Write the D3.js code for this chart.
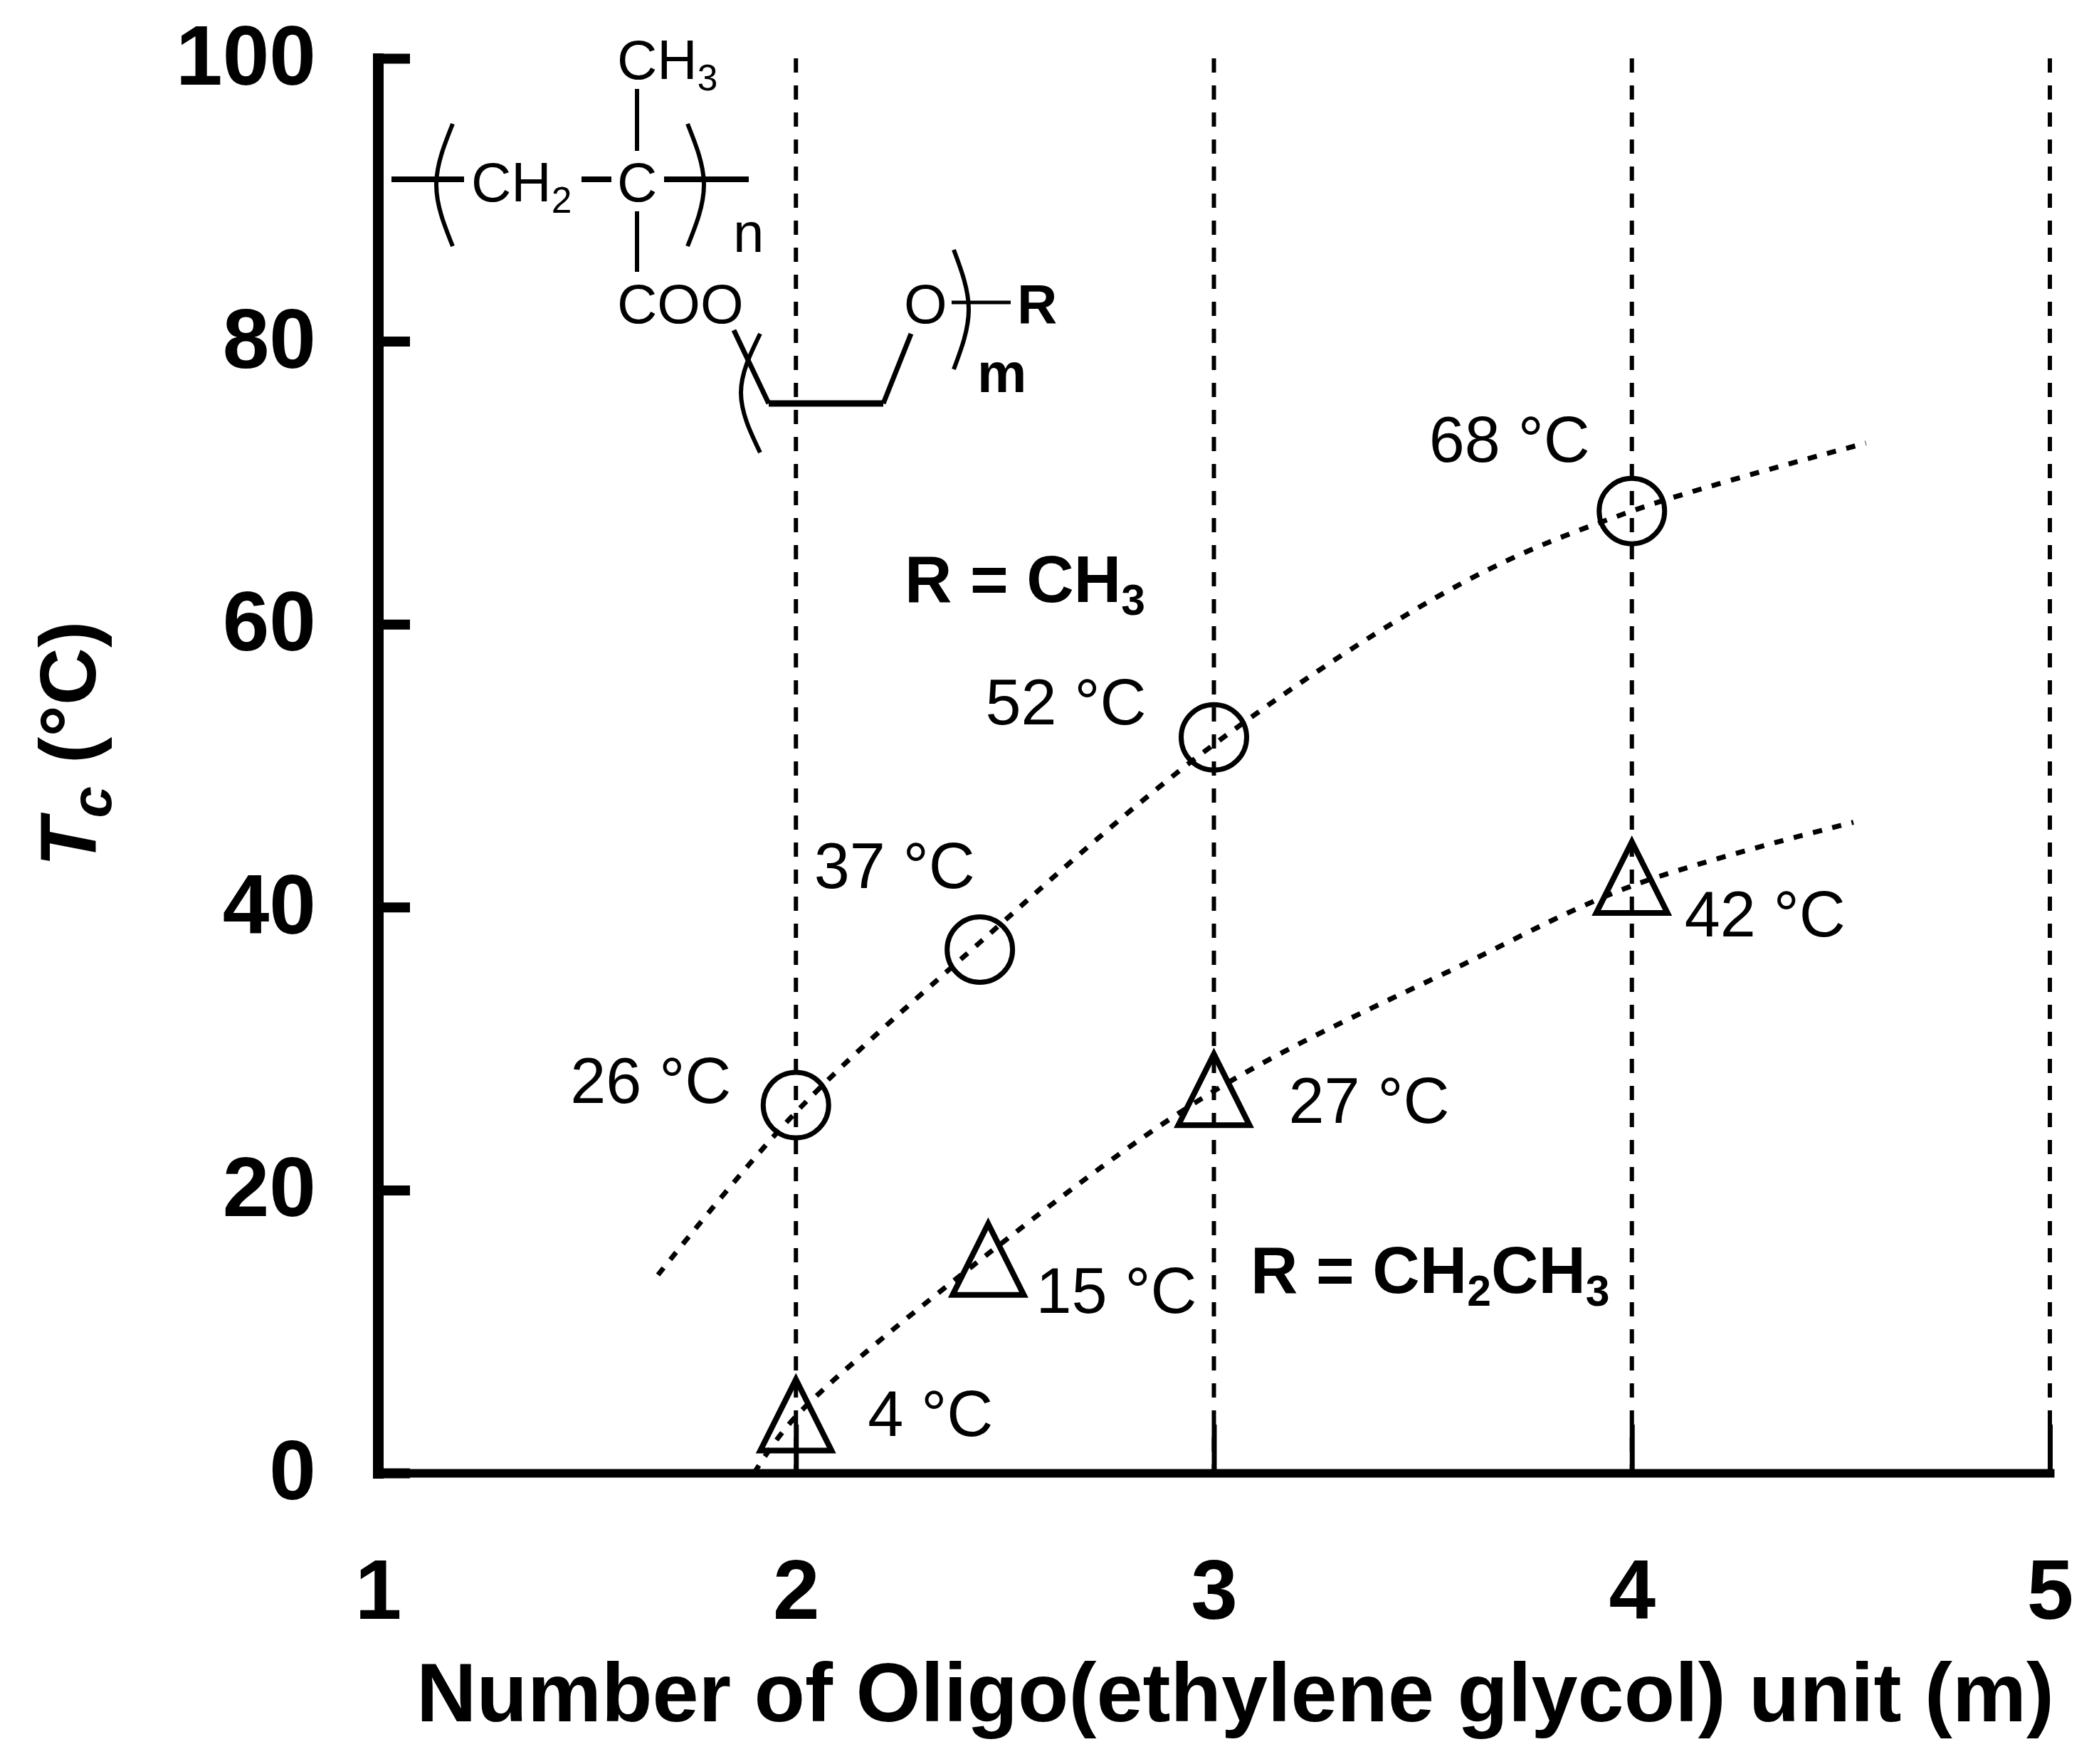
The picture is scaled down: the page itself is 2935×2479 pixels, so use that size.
<!DOCTYPE html>
<html>
<head>
<meta charset="utf-8">
<script src="https://cdn.jsdelivr.net/npm/d3@7"></script>
<style>
  body { margin: 0; background: #fff; }
  text { font-family: "Liberation Sans", Arial, sans-serif; fill: #000; }
</style>
</head>
<body>
<div id="chart"></div>
<script>
// values
var xTicks = [1, 2, 3, 4, 5];
var yTicks = [0, 20, 40, 60, 80, 100];
var gridLines = [2, 3, 4, 5];

var methylM = [2, 2.44, 3, 4];
var methylTc = [26, 37, 52, 68];
var ethylM = [2, 2.46, 3, 4];
var ethylTc = [4, 15, 27, 42];

// hand-drawn trend curves
var methylCurveM = [1.67, 2, 2.44, 3, 3.6, 4, 4.56];
var methylCurveTc = [14, 25.5, 37.5, 51.5, 63, 68, 72.8];
var ethylCurveM = [1.9, 2, 2.46, 3, 3.6, 4, 4.53];
var ethylCurveTc = [0, 4, 15.5, 27, 36, 41.5, 46];

var svgWidth = 2935;
var svgHeight = 2479;
var margin = { top: 82, right: 55, bottom: 409, left: 531 };
var width = svgWidth - margin.left - margin.right;
var height = svgHeight - margin.top - margin.bottom;

var svg = d3.select("#chart").append("svg").attr("width", svgWidth).attr("height", svgHeight);
var chartGroup = svg.append("g").attr("transform", `translate(${margin.left}, ${margin.top})`);

var xScale = d3.scaleLinear().domain([1, 5]).range([0, width]);
var yScale = d3.scaleLinear().domain([0, 100]).range([height, 0]);

// vertical dashed lines
chartGroup.selectAll(".grid").data(gridLines).enter().append("line").classed("grid", true)
  .attr("x1", d => xScale(d)).attr("x2", d => xScale(d))
  .attr("y1", yScale(100)).attr("y2", yScale(0))
  .attr("stroke", "#000").attr("stroke-width", 6).attr("stroke-dasharray", "20 18");

// axes
var bottomAxis = d3.axisBottom(xScale).tickValues(xTicks).tickFormat(d3.format("d")).tickSizeInner(-68).tickSizeOuter(0);
var leftAxis = d3.axisLeft(yScale).tickValues(yTicks).tickFormat(d3.format("d")).tickSizeInner(-45).tickSizeOuter(0);

var xAxis = chartGroup.append("g").attr("transform", `translate(0, ${height})`).call(bottomAxis);
var yAxis = chartGroup.append("g").call(leftAxis);

xAxis.select(".domain").attr("stroke-width", 12).attr("stroke-linecap", "square");
xAxis.selectAll(".tick line").attr("stroke-width", 7);
xAxis.selectAll(".tick text").attr("y", 205).attr("dy", 0)
  .style("font-size", "118px").style("font-weight", "bold").style("font-family", "Liberation Sans");
yAxis.select(".domain").attr("stroke-width", 15).attr("stroke-linecap", "square");
yAxis.selectAll(".tick line").attr("stroke-width", 14);
yAxis.selectAll(".tick text").attr("x", -87).attr("dy", "0.31em")
  .style("font-size", "118px").style("font-weight", "bold").style("font-family", "Liberation Sans");

// trend curves
var curve = d3.line().x(d => xScale(d[0])).y(d => yScale(d[1])).curve(d3.curveCatmullRom);
[d3.zip(methylCurveM, methylCurveTc), d3.zip(ethylCurveM, ethylCurveTc)].forEach(function(pts) {
  chartGroup.append("path").attr("d", curve(pts)).attr("fill", "none")
    .attr("stroke", "#000").attr("stroke-width", 7).attr("stroke-dasharray", "13 15");
});

// markers
chartGroup.selectAll(".circ").data(d3.zip(methylM, methylTc)).enter().append("circle").classed("circ", true)
  .attr("cx", d => xScale(d[0])).attr("cy", d => yScale(d[1])).attr("r", 46)
  .attr("fill", "none").attr("stroke", "#000").attr("stroke-width", 7);

chartGroup.selectAll(".tri").data(d3.zip(ethylM, ethylTc)).enter().append("path").classed("tri", true)
  .attr("transform", d => `translate(${xScale(d[0])}, ${yScale(d[1])})`)
  .attr("d", "M0,-52L50,48L-50,48Z")
  .attr("fill", "none").attr("stroke", "#000").attr("stroke-width", 8);

// data labels, offset from their marker
var methylOffsets = [[-317, -3], [-233, -86], [-321, -18], [-285, -69]];
var ethylOffsets = [[101, 28], [67, 73], [105, 45], [74, 81]];

function addLabels(ms, vals, offsets) {
  d3.zip(ms, vals, offsets).forEach(function(d) {
    chartGroup.append("text")
      .attr("x", xScale(d[0]) + d[2][0]).attr("y", yScale(d[1]) + d[2][1])
      .style("font-size", "90px").text(`${d[1]} °C`);
  });
}
addLabels(methylM, methylTc, methylOffsets);
addLabels(ethylM, ethylTc, ethylOffsets);

// axis titles
svg.append("text").attr("x", 2886).attr("y", 2419).attr("text-anchor", "end")
  .style("font-size", "117px").style("font-weight", "bold")
  .text("Number of Oligo(ethylene glycol) unit (m)");

var yTitle = svg.append("text").attr("transform", "translate(134, 1218) rotate(-90)")
  .style("font-size", "112px").style("font-weight", "bold");
yTitle.append("tspan").style("font-style", "italic").text("T");
yTitle.append("tspan").attr("dy", 22).style("font-size", "80px").style("font-style", "italic").text("c");
yTitle.append("tspan").attr("dy", -22).attr("dx", 32).text("(°C)");

// structure formula and R labels are drawn on the page, not on the scales
function label(x, y, parts, size, bold) {
  var t = svg.append("text").attr("x", x).attr("y", y)
    .style("font-size", size + "px").style("font-weight", bold ? "bold" : "normal");
  var sub = false;
  parts.forEach(function(p) {
    var isSub = /^[0-9]$/.test(p);
    var dy = isSub && !sub ? size * 0.2 : (!isSub && sub ? -size * 0.2 : 0);
    t.append("tspan").attr("dy", dy).style("font-size", (isSub ? size * 0.66 : size) + "px").text(p);
    sub = isSub;
  });
}
label(1271, 846, ["R = CH", "3"], 92, true);
label(1757, 1817, ["R = CH", "2", "CH", "3"], 92, true);

label(867, 111, ["CH", "3"], 78);
label(662, 283, ["CH", "2"], 78);
label(867, 283, ["C"], 78);
label(1030, 354, ["n"], 78);
label(867, 454, ["COO"], 78);
label(1270, 454, ["O"], 78);
label(1429, 454, ["R"], 78, true);
label(1373, 551, ["m"], 78, true);

var bonds = [
  [[895, 125], [895, 212], 6], [[895, 297], [895, 382], 6],
  [[550, 252], [652, 252], 8], [[817, 252], [859, 252], 8], [[933, 252], [1052, 252], 8],
  [[1337, 425], [1420, 425], 5],
  [[1031, 464], [1080, 567], 7], [[1080, 567], [1241, 567], 9], [[1241, 567], [1280, 469], 7]
];
var bondLine = d3.line();
bonds.forEach(function(b) {
  svg.append("path").attr("d", bondLine([b[0], b[1]])).attr("fill", "none")
    .attr("stroke", "#000").attr("stroke-width", b[2]);
});

var parens = [
  [[636, 174], [613, 260], [636, 346]],
  [[966, 174], [989, 260], [966, 346]],
  [[1068, 469], [1041, 552], [1068, 636]],
  [[1340, 351], [1361, 435], [1340, 519]]
];
var parenLine = d3.line().curve(d3.curveNatural);
parens.forEach(function(p) {
  svg.append("path").attr("d", parenLine(p)).attr("fill", "none")
    .attr("stroke", "#000").attr("stroke-width", 6);
});
</script>
</body>
</html>
